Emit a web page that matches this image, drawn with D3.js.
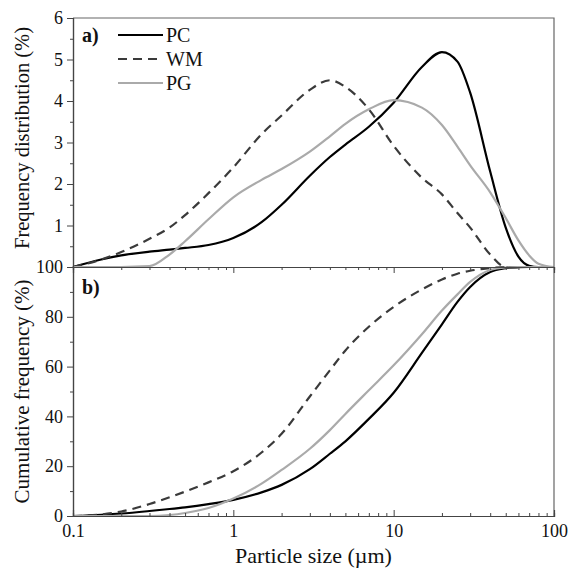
<!DOCTYPE html>
<html>
<head>
<meta charset="utf-8">
<script src="https://cdn.jsdelivr.net/npm/d3@7"></script>
<style>
  body { margin: 0; background: #fff; }
  svg text { fill: #111; }
</style>
</head>
<body>
<div id="chart"></div>
<script>
// particle sizes (µm) shared by every series
const sizes = [0.1, 0.15, 0.2, 0.3, 0.4, 0.5, 0.7, 1, 1.5, 2, 3, 4, 5, 7, 10, 15, 20, 25, 30, 40, 50, 60, 70, 80, 100];

// a) frequency distribution (%)
const freqPC = [0, 0.18, 0.28, 0.37, 0.42, 0.46, 0.53, 0.70, 1.08, 1.5, 2.2, 2.65, 2.95, 3.38, 3.96, 4.82, 5.18, 4.95, 4.2, 2.3, 0.95, 0.25, 0.03, 0, 0];
const freqWM = [0, 0.18, 0.36, 0.68, 0.95, 1.25, 1.78, 2.4, 3.2, 3.65, 4.27, 4.5, 4.34, 3.8, 2.92, 2.15, 1.75, 1.3, 0.95, 0.3, 0, 0, 0, 0, 0];
const freqPG = [0, 0, 0, 0.02, 0.3, 0.62, 1.15, 1.68, 2.1, 2.36, 2.78, 3.15, 3.45, 3.8, 4.02, 3.84, 3.42, 2.9, 2.45, 1.8, 1.18, 0.64, 0.28, 0.08, 0];

// b) cumulative frequency (%)
const cumPC = [0, 0.5, 1, 2, 2.8, 3.5, 4.8, 6.5, 9.5, 12.5, 18.8, 25, 30, 39, 49.5, 65.5, 77, 86, 92, 98, 99.5, 99.9, 100, 100, 100];
const cumWM = [0, 0.6, 1.8, 4.8, 7.5, 9.8, 13.5, 18, 25.5, 33, 48, 58.5, 66.5, 76, 84, 91, 95, 97.3, 98.5, 99.5, 100, 100, 100, 100, 100];
const cumPG = [0, 0, 0, 0, 0.4, 1.2, 3.2, 7, 13, 18.5, 27, 34.5, 41, 50.5, 60.5, 73, 82.5, 89, 94, 98.8, 99.8, 100, 100, 100, 100];

const seriesNames = ["PC", "WM", "PG"];
const seriesColors = ["#000000", "#3a3a3a", "#aaaaaa"];
const seriesDash = [null, "9,6", null];

const xTicks = [0.1, 1, 10, 100];
const freqTicks = [1, 2, 3, 4, 5, 6];
const cumTicks = [0, 20, 40, 60, 80, 100];

const W = 579, H = 569;
const plotLeft = 73, plotRight = 554, plotTop = 18, plotMid = 267, plotBottom = 516;
const serif = "'Liberation Serif', 'Times New Roman', Times, 'DejaVu Serif', serif";

const svg = d3.select("#chart").append("svg")
  .attr("width", W)
  .attr("height", H)
  .attr("font-family", serif);

const x = d3.scaleLog().domain([0.1, 100]).range([plotLeft, plotRight]);
const yFreq = d3.scaleLinear().domain([0, 6]).range([plotMid, plotTop]);
const yCum = d3.scaleLinear().domain([0, 100]).range([plotBottom, plotMid]);

const minorX = [];
[0.1, 1, 10].forEach(d => { for (let k = 2; k <= 9; k++) minorX.push(d * k); });

function drawCurves(y, data) {
  const line = d3.line()
    .x((d, i) => x(sizes[i]))
    .y(d => y(d))
    .curve(d3.curveMonotoneX);
  data.forEach((vals, i) => {
    svg.append("path")
      .datum(vals)
      .attr("d", line)
      .attr("fill", "none")
      .attr("stroke", seriesColors[i])
      .attr("stroke-width", 2.2)
      .attr("stroke-dasharray", seriesDash[i]);
  });
}

drawCurves(yFreq, [freqPC, freqWM, freqPG]);
drawCurves(yCum, [cumPC, cumWM, cumPG]);

// frames (top and right edges)
svg.append("path")
  .attr("d", `M${plotLeft},${plotTop}H${plotRight}V${plotBottom}`)
  .attr("fill", "none")
  .attr("stroke", "#666")
  .attr("stroke-width", 1.2);

// y axes
svg.append("g")
  .attr("transform", `translate(${plotLeft},0)`)
  .call(d3.axisLeft(yFreq).tickValues(freqTicks).tickSize(6).tickPadding(4).tickFormat(d3.format("d")));
svg.append("g")
  .attr("transform", `translate(${plotLeft},0)`)
  .call(d3.axisLeft(yFreq).tickValues(d3.range(0.5, 6, 1)).tickSize(3).tickFormat(""));

svg.append("g")
  .attr("transform", `translate(${plotLeft},0)`)
  .call(d3.axisLeft(yCum).tickValues(cumTicks).tickSize(6).tickPadding(4).tickFormat(d3.format("d")));
svg.append("g")
  .attr("transform", `translate(${plotLeft},0)`)
  .call(d3.axisLeft(yCum).tickValues(d3.range(10, 100, 20)).tickSize(3).tickFormat(""));

// x axis between panels, ticks pointing down
svg.append("g")
  .attr("transform", `translate(0,${plotMid})`)
  .call(d3.axisBottom(x).tickValues(xTicks).tickSize(6).tickFormat(""));
svg.append("g")
  .attr("transform", `translate(0,${plotMid})`)
  .call(d3.axisBottom(x).tickValues(minorX).tickSize(3).tickFormat(""));

// bottom x axis, ticks pointing in
svg.append("g")
  .attr("transform", `translate(0,${plotBottom})`)
  .call(d3.axisBottom(x).tickValues(xTicks).tickSize(-6).tickPadding(8).tickFormat(d => d));
svg.append("g")
  .attr("transform", `translate(0,${plotBottom})`)
  .call(d3.axisBottom(x).tickValues(minorX).tickSize(-3).tickFormat(""));

svg.selectAll("g").attr("font-family", serif);
svg.selectAll(".domain").attr("stroke", "#444").attr("stroke-width", 1.2);
svg.selectAll(".tick line").attr("stroke", "#444").attr("stroke-width", 1);
svg.selectAll(".tick text").attr("font-size", 18).attr("fill", "#111");

// axis titles
svg.append("text")
  .attr("transform", `translate(29,138) rotate(-90)`)
  .attr("text-anchor", "middle")
  .attr("font-size", 20.5)
  .text("Frequency distribution (%)");

svg.append("text")
  .attr("transform", `translate(29,${(plotMid + plotBottom) / 2}) rotate(-90)`)
  .attr("text-anchor", "middle")
  .attr("font-size", 21)
  .text("Cumulative frequency (%)");

svg.append("text")
  .attr("x", (plotLeft + plotRight) / 2)
  .attr("y", 563)
  .attr("text-anchor", "middle")
  .attr("font-size", 22)
  .text("Particle size (µm)");

// panel labels
svg.append("text")
  .attr("x", 82).attr("y", 42)
  .attr("font-size", 20).attr("font-weight", "bold")
  .text("a)");
svg.append("text")
  .attr("x", 82).attr("y", 294)
  .attr("font-size", 20).attr("font-weight", "bold")
  .text("b)");

// legend
const legend = svg.append("g");
seriesNames.forEach((name, i) => {
  const ly = 35 + i * 24;
  legend.append("line")
    .attr("x1", 118).attr("x2", 163)
    .attr("y1", ly).attr("y2", ly)
    .attr("stroke", seriesColors[i])
    .attr("stroke-width", 2.2)
    .attr("stroke-dasharray", seriesDash[i]);
  legend.append("text")
    .attr("x", 166).attr("y", ly + 7)
    .attr("font-size", 20)
    .text(name);
});
</script>
</body>
</html>
